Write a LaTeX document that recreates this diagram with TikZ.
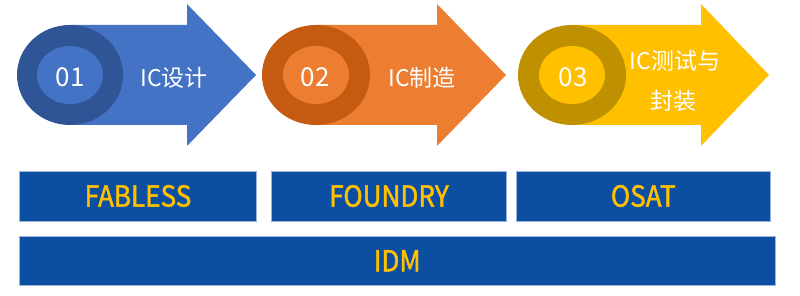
\documentclass[tikz,border=0pt]{standalone}
\usepackage{fontspec}
\newfontfamily\cjk{Noto Sans CJK SC}
\newfontfamily\barfont[FakeStretch=0.9,FakeBold=1.5]{Noto Sans CJK SC}
\definecolor{blueA}{HTML}{4472C4}
\definecolor{blueB}{HTML}{2F5597}
\definecolor{orA}{HTML}{ED7D31}
\definecolor{orB}{HTML}{C55A11}
\definecolor{yeA}{HTML}{FFC000}
\definecolor{yeB}{HTML}{BF9000}
\definecolor{barblue}{HTML}{0B4EA2}
\definecolor{barline}{HTML}{9DB5DE}
\tikzset{
  numtext/.style={text=white,font=\cjk\fontsize{26}{28}\selectfont,inner sep=0pt},
  steptext/.style={text=white,font=\cjk\fontsize{23}{25}\selectfont,inner sep=0pt,align=center},
  barbox/.style={fill=barblue,draw=barline,line width=0.8pt,inner sep=0pt,
    text=yeA,font=\barfont\fontsize{29}{31}\selectfont},
}
\begin{document}
\begin{tikzpicture}[x=1pt,y=-1pt]
\useasboundingbox (0,0) rectangle (800,296);
% arrow 1
\fill[blueA] (70,25) -- (187,25) -- (187,4) -- (256,75) -- (187,146) -- (187,125) -- (70,125) -- cycle;
\fill[blueB] (70,75) ellipse [x radius=53,y radius=50];
\fill[blueA] (70,75) ellipse [x radius=33,y radius=29];
\node[numtext] (n1) at (70,77) {01};
\node[steptext] (t1) at (174,78) {IC设计};
% arrow 2
\fill[orA] (316,25) -- (437,25) -- (437,4) -- (506,75) -- (437,146) -- (437,125) -- (316,125) -- cycle;
\fill[orB] (316,75) ellipse [x radius=54,y radius=50];
\fill[orA] (316,75) ellipse [x radius=33,y radius=29];
\node[numtext] (n2) at (315,77) {02};
\node[steptext] (t2) at (422,78) {IC制造};
% arrow 3
\fill[yeA] (572,25) -- (701,25) -- (701,4) -- (769,75) -- (701,146) -- (701,125) -- (572,125) -- cycle;
\fill[yeB] (572,75) ellipse [x radius=54,y radius=50];
\fill[yeA] (572,75) ellipse [x radius=33,y radius=29];
\node[numtext] (n3) at (573,77) {03};
\node[steptext] (t3a) at (675,61) {IC测试与};
\node[steptext] (t3b) at (673,101) {封装};
% bars
\node[barbox,minimum width=237pt,minimum height=50pt] (fab) at (138,196) {FABLESS};
\node[barbox,minimum width=235pt,minimum height=50pt] (fou) at (389,196) {FOUNDRY};
\node[barbox,minimum width=253.5pt,minimum height=50pt] (osat) at (643.25,196) {OSAT};
\node[barbox,minimum width=755.5pt,minimum height=49.5pt] (idm) at (397.25,260.75) {IDM};
\end{tikzpicture}
\end{document}
